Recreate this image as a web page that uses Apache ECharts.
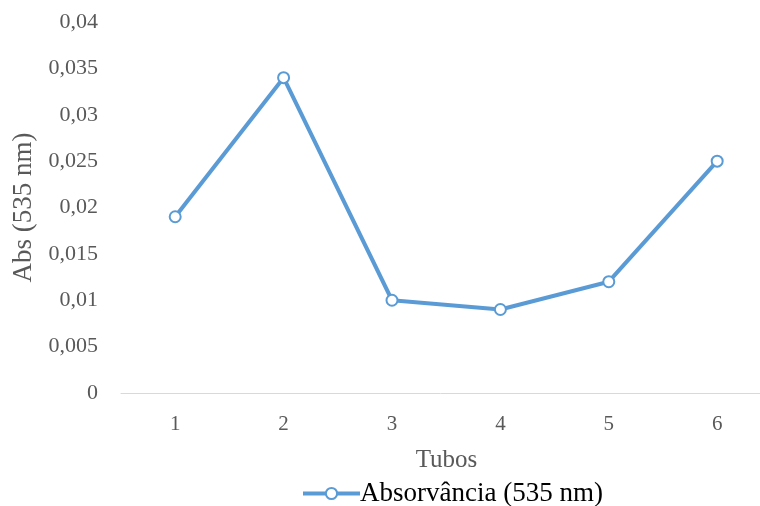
<!DOCTYPE html>
<html>
<head>
<meta charset="utf-8">
<script src="https://cdn.jsdelivr.net/npm/echarts@6/dist/echarts.min.js"></script>
<style>html,body{margin:0;padding:0;background:#fff}#c{width:760px;height:506px}</style>
</head>
<body>
<div id="c"></div>
<script>
const categories = ['1', '2', '3', '4', '5', '6'];
const absorbance = [0.019, 0.034, 0.010, 0.009, 0.012, 0.025];
const seriesName = 'Absorvância (535 nm)';
const xTitle = 'Tubos';
const yTitle = 'Abs (535 nm)';

const FONT = "'Liberation Serif', 'Times New Roman', serif";
const positions = categories.map((c, i) => i + 1);
const points = absorbance.map((v, i) => [positions[i], v]);
const chart = echarts.init(document.getElementById('c'));
chart.setOption({
  animation: false,
  backgroundColor: '#fff',
  grid: { left: 121, right: 0, top: 22, bottom: 113, containLabel: false },
  legend: {
    bottom: -6,
    left: 296,
    itemWidth: 57,
    itemHeight: 14,
    itemGap: 0,
    lineStyle: { width: 4 },
    textStyle: { fontFamily: FONT, fontSize: 27, color: '#000', padding: [0, 0, 0, -5] },
    data: [seriesName]
  },
  xAxis: {
    type: 'value',
    min: 0.5,
    max: 6.395,
    name: xTitle,
    nameLocation: 'middle',
    nameGap: 55,
    nameTextStyle: { fontFamily: FONT, fontSize: 25, color: '#595959', padding: [0, 0, 0, 12] },
    axisLine: { lineStyle: { color: '#d9d9d9', width: 1 } },
    axisTick: { show: false },
    splitLine: { show: false },
    axisLabel: {
      fontFamily: FONT, fontSize: 21, color: '#595959', margin: 21,
      customValues: positions,
      formatter: v => categories[Math.round(v) - 1]
    }
  },
  yAxis: {
    type: 'value',
    min: 0,
    max: 0.04,
    interval: 0.005,
    name: yTitle,
    nameLocation: 'middle',
    nameGap: 80,
    nameTextStyle: { fontFamily: FONT, fontSize: 27, color: '#595959' },
    axisLine: { show: false },
    axisTick: { show: false },
    splitLine: { show: false },
    axisLabel: {
      fontFamily: FONT, fontSize: 22, color: '#595959', margin: 23,
      formatter: v => String(+v.toFixed(3)).replace('.', ',')
    }
  },
  series: [{
    name: seriesName,
    type: 'line',
    data: points,
    symbol: 'emptyCircle',
    symbolSize: 11,
    lineStyle: { color: '#5B9BD5', width: 4 },
    itemStyle: { color: '#5B9BD5', borderColor: '#5B9BD5', borderWidth: 2 }
  }]
});
</script>
</body>
</html>
